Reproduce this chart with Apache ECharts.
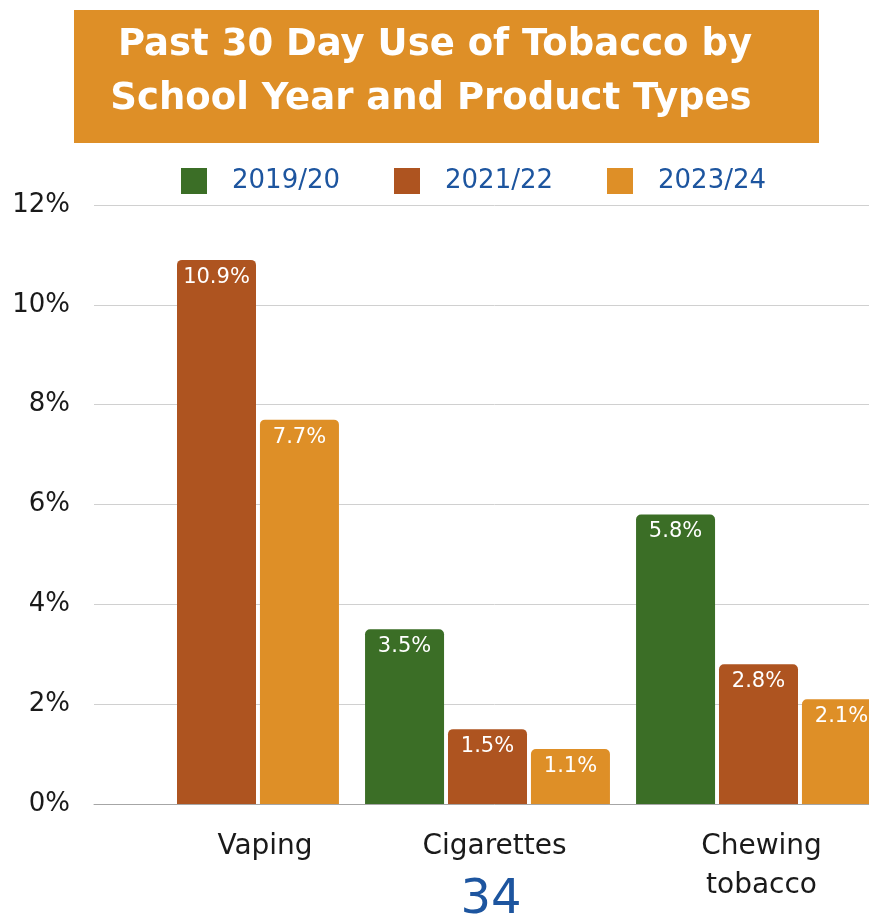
<!DOCTYPE html>
<html>
<head>
<meta charset="utf-8">
<script src="https://cdn.jsdelivr.net/npm/echarts@6/dist/echarts.min.js"></script>
<style>
html,body{margin:0;padding:0;background:#fff;overflow:hidden;width:869px;height:919px;}
#c{width:895px;height:919px;}
</style>
</head>
<body>
<div id="c"></div>
<script>
const categories = ['Vaping', 'Cigarettes', 'Chewing\ntobacco'];
const seriesNames = ['2019/20', '2021/22', '2023/24'];
const v2019 = [null, 3.5, 5.8];
const v2021 = [10.9, 1.5, 2.8];
const v2023 = [7.7, 1.1, 2.1];
const yTicks = [0, 2, 4, 6, 8, 10, 12];
const titleLines = ['Past 30 Day Use of Tobacco by', 'School Year and Product Types'];
const pageNumber = '34';

const colors = ['#3B6E26', '#AE5420', '#DE8F27'];
const FONT = '"DejaVu Sans", "Noto Sans", sans-serif';
const chart = echarts.init(document.getElementById('c'));

function barSeries(name, data, color) {
  return {
    name: name, type: 'bar', xAxisIndex: 1, yAxisIndex: 1,
    data: data.map(v => v === null ? '-' : v),
    barWidth: 79, barGap: '5%',
    itemStyle: { color: color, borderRadius: [5, 5, 0, 0] },
    label: {
      show: true, position: 'insideTop', distance: 7,
      color: '#fff', fontFamily: FONT, fontSize: 21,
      formatter: p => p.value + '%'
    }
  };
}

chart.setOption({
  animation: false,
  color: colors,
  textStyle: { fontFamily: FONT },
  graphic: [
    { type: 'rect', left: 74, top: 10, shape: { width: 745, height: 133 }, style: { fill: '#DE8F27' }, silent: true },
    { type: 'text', x: 435, y: 45, style: { text: titleLines[0], fill: '#fff', font: 'bold 37px ' + FONT, textAlign: 'center', textVerticalAlign: 'middle' } },
    { type: 'text', x: 431, y: 99, style: { text: titleLines[1], fill: '#fff', font: 'bold 37px ' + FONT, textAlign: 'center', textVerticalAlign: 'middle' } },
    { type: 'text', x: 491, y: 901, style: { text: pageNumber, fill: '#1D559F', font: '48px ' + FONT, textAlign: 'center', textVerticalAlign: 'middle' } }
  ],
  legend: {
    data: seriesNames,
    left: 176, top: 163,
    itemWidth: 26, itemHeight: 26, itemGap: 54,
    icon: 'rect',
    textStyle: { color: '#1D559F', fontSize: 26, fontFamily: FONT, padding: [0, 0, 0, 20] }
  },
  grid: [
    { left: 94, right: 0, top: 205, bottom: 115 },
    { left: 81, width: 813, top: 205, bottom: 115 }
  ],
  xAxis: [
    {
      type: 'category', gridIndex: 0,
      data: categories.map((c, i) => i === 0 ? { value: c, textStyle: { padding: [0, 0, 0, 75] } } : c),
      axisLine: { lineStyle: { color: '#A6A6A6', width: 1 } },
      axisTick: { show: false },
      axisLabel: { color: '#1a1a1a', fontSize: 28, fontFamily: FONT, margin: 23, lineHeight: 39 }
    },
    {
      type: 'category', gridIndex: 1, data: categories,
      axisLine: { show: false }, axisTick: { show: false }, axisLabel: { show: false }
    }
  ],
  yAxis: [
    {
      type: 'value', gridIndex: 0, min: yTicks[0], max: yTicks[yTicks.length - 1], interval: 2,
      axisLine: { show: false }, axisTick: { show: false },
      splitLine: { lineStyle: { color: '#D0D0D0', width: 1 } },
      axisLabel: { formatter: '{value}%', color: '#1a1a1a', fontSize: 26, fontFamily: FONT, margin: 24 }
    },
    {
      type: 'value', gridIndex: 1, min: yTicks[0], max: yTicks[yTicks.length - 1], interval: 2,
      show: false
    }
  ],
  series: [
    barSeries(seriesNames[0], v2019, colors[0]),
    barSeries(seriesNames[1], v2021, colors[1]),
    barSeries(seriesNames[2], v2023, colors[2])
  ]
});
</script>
</body>
</html>
